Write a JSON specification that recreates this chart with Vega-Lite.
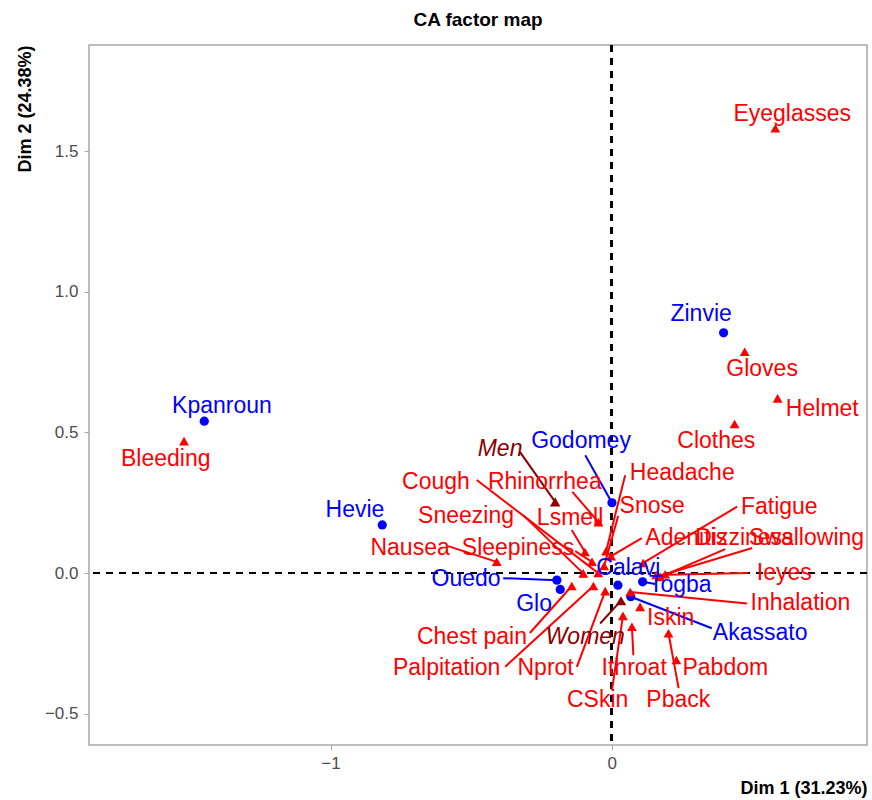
{
  "$schema": "https://vega.github.io/schema/vega-lite/v6.json",
  "width": 778,
  "height": 700,
  "autosize": {"type": "none"},
  "padding": {"left": 89, "top": 45, "right": 5, "bottom": 55},
  "background": "white",
  "title": {"text": "CA factor map", "font": "Liberation Sans", "fontSize": 19, "fontWeight": "bold", "color": "black", "anchor": "middle", "offset": 14},
  "config": {
    "view": {"stroke": "#A8A8A8", "strokeWidth": 1.5},
    "axis": {"labelFont": "Liberation Sans", "titleFont": "Liberation Sans", "labelColor": "#4D4D4D", "labelFontSize": 17, "titleFontSize": 18, "titleFontWeight": "bold", "titleColor": "black", "gridColor": "#EBEBEB", "gridWidth": 1.2, "domain": false, "tickSize": 5}
  },
  "datasets": {
    "pts": [
      {"name": "Kpanroun", "type": "row", "x": -1.449, "y": 0.540, "lx": -1.386, "ly": 0.594},
      {"name": "Zinvie", "type": "row", "x": 0.398, "y": 0.854, "lx": 0.318, "ly": 0.921},
      {"name": "Hevie", "type": "row", "x": -0.816, "y": 0.171, "lx": -0.913, "ly": 0.224},
      {"name": "Godomey", "type": "row", "x": 0.001, "y": 0.250, "lx": -0.109, "ly": 0.469, "sx": -0.094, "sy": 0.419},
      {"name": "Ouedo", "type": "row", "x": -0.195, "y": -0.025, "lx": -0.518, "ly": -0.021, "sx": -0.386, "sy": -0.018},
      {"name": "Glo", "type": "row", "x": -0.183, "y": -0.058, "lx": -0.276, "ly": -0.110},
      {"name": "Calavi", "type": "row", "x": 0.022, "y": -0.043, "lx": 0.059, "ly": 0.018},
      {"name": "Togba", "type": "row", "x": 0.110, "y": -0.031, "lx": 0.244, "ly": -0.043, "sx": 0.155, "sy": -0.039},
      {"name": "Akassato", "type": "row", "x": 0.068, "y": -0.084, "lx": 0.528, "ly": -0.213, "sx": 0.356, "sy": -0.196},
      {"name": "Eyeglasses", "type": "col", "x": 0.582, "y": 1.581, "lx": 0.642, "ly": 1.632},
      {"name": "Gloves", "type": "col", "x": 0.473, "y": 0.787, "lx": 0.535, "ly": 0.725},
      {"name": "Helmet", "type": "col", "x": 0.590, "y": 0.621, "lx": 0.749, "ly": 0.583},
      {"name": "Clothes", "type": "col", "x": 0.437, "y": 0.530, "lx": 0.372, "ly": 0.469},
      {"name": "Bleeding", "type": "col", "x": -1.521, "y": 0.469, "lx": -1.586, "ly": 0.405},
      {"name": "Cough", "type": "col", "x": -0.048, "y": 0.000, "lx": -0.625, "ly": 0.324, "sx": -0.480, "sy": 0.331},
      {"name": "Rhinorrhea", "type": "col", "x": -0.047, "y": 0.181, "lx": -0.238, "ly": 0.324, "sx": -0.140, "sy": 0.289},
      {"name": "Headache", "type": "col", "x": -0.020, "y": 0.078, "lx": 0.251, "ly": 0.355, "sx": 0.048, "sy": 0.348},
      {"name": "Snose", "type": "col", "x": -0.027, "y": 0.025, "lx": 0.144, "ly": 0.238, "sx": 0.023, "sy": 0.203},
      {"name": "Sneezing", "type": "col", "x": -0.101, "y": -0.001, "lx": -0.518, "ly": 0.203, "sx": -0.315, "sy": 0.206},
      {"name": "Lsmell", "type": "col", "x": -0.095, "y": 0.075, "lx": -0.148, "ly": 0.196, "sx": -0.142, "sy": 0.153},
      {"name": "Nausea", "type": "col", "x": -0.409, "y": 0.040, "lx": -0.717, "ly": 0.089, "sx": -0.582, "sy": 0.096},
      {"name": "Sleepiness", "type": "col", "x": -0.070, "y": 0.040, "lx": -0.333, "ly": 0.089, "sx": -0.130, "sy": 0.078},
      {"name": "Adenitis", "type": "col", "x": -0.002, "y": 0.060, "lx": 0.265, "ly": 0.124, "sx": 0.107, "sy": 0.124},
      {"name": "Fatigue", "type": "col", "x": 0.112, "y": 0.036, "lx": 0.596, "ly": 0.235, "sx": 0.446, "sy": 0.236},
      {"name": "Dizziness", "type": "col", "x": 0.173, "y": -0.014, "lx": 0.472, "ly": 0.124, "sx": 0.404, "sy": 0.085},
      {"name": "Swallowing", "type": "col", "x": 0.190, "y": -0.004, "lx": 0.693, "ly": 0.124, "sx": 0.500, "sy": 0.089},
      {"name": "Ieyes", "type": "col", "x": 0.158, "y": -0.007, "lx": 0.614, "ly": 0.000, "sx": 0.486, "sy": 0.000},
      {"name": "Inhalation", "type": "col", "x": 0.066, "y": -0.067, "lx": 0.671, "ly": -0.107, "sx": 0.481, "sy": -0.108},
      {"name": "Iskin", "type": "col", "x": 0.101, "y": -0.120, "lx": 0.210, "ly": -0.160},
      {"name": "Pback", "type": "col", "x": 0.202, "y": -0.214, "lx": 0.237, "ly": -0.451, "sx": 0.238, "sy": -0.409},
      {"name": "Pabdom", "type": "col", "x": 0.230, "y": -0.309, "lx": 0.404, "ly": -0.338},
      {"name": "Ithroat", "type": "col", "x": 0.072, "y": -0.191, "lx": 0.080, "ly": -0.338, "sx": 0.077, "sy": -0.292},
      {"name": "CSkin", "type": "col", "x": 0.040, "y": -0.152, "lx": -0.050, "ly": -0.451, "sx": 0.001, "sy": -0.416},
      {"name": "Nprot", "type": "col", "x": -0.023, "y": -0.064, "lx": -0.235, "ly": -0.338, "sx": -0.124, "sy": -0.333},
      {"name": "Palpitation", "type": "col", "x": -0.065, "y": -0.046, "lx": -0.587, "ly": -0.338, "sx": -0.379, "sy": -0.333},
      {"name": "Chest pain", "type": "col", "x": -0.142, "y": -0.046, "lx": -0.497, "ly": -0.226, "sx": -0.291, "sy": -0.213},
      {"name": "Men", "type": "sup", "x": -0.201, "y": 0.253, "lx": -0.397, "ly": 0.441, "sx": -0.326, "sy": 0.430},
      {"name": "Women", "type": "sup", "x": 0.033, "y": -0.098, "lx": -0.094, "ly": -0.226, "sx": -0.041, "sy": -0.179}
    ]
  },
  "data": {"name": "pts"},
  "encoding": {
    "x": {"type": "quantitative", "scale": {"domain": [-1.859, 0.908], "nice": false, "zero": false},
      "axis": {"title": "Dim 1 (31.23%)", "titleAnchor": "end", "titleAlign": "right", "titlePadding": 8,
        "values": [-1.5, -1, -0.5, 0, 0.5],
        "labelExpr": "datum.value == -1 ? '−1' : (datum.value == 0 ? '0' : '')",
        "tickColor": {"condition": {"test": "datum.value == -1 || datum.value == 0", "value": "#A8A8A8"}, "value": "transparent"},
        "labelPadding": 5}},
    "y": {"type": "quantitative", "scale": {"domain": [-0.611, 1.877], "nice": false, "zero": false},
      "axis": {"title": "Dim 2 (24.38%)", "titleAnchor": "end", "titlePadding": 10,
        "values": [-0.5, -0.25, 0, 0.25, 0.5, 0.75, 1, 1.25, 1.5, 1.75],
        "labelExpr": "abs(datum.value * 2 - round(datum.value * 2)) < 0.001 ? replace(format(datum.value, '.1f'), '-', '−') : ''",
        "tickColor": {"condition": {"test": "abs(datum.value * 2 - round(datum.value * 2)) < 0.001", "value": "#A8A8A8"}, "value": "transparent"},
        "labelPadding": 6}}
  },
  "layer": [
    {"mark": {"type": "rule", "color": "black", "strokeDash": [7, 6], "strokeWidth": 1.8}, "encoding": {"x": {"datum": 0}, "y": null}},
    {"mark": {"type": "rule", "color": "black", "strokeDash": [7, 6], "strokeWidth": 1.8}, "encoding": {"y": {"datum": 0}, "x": null}},
    {
      "transform": [{"filter": "isValid(datum.sx)"}],
      "mark": {"type": "rule", "strokeWidth": 2},
      "encoding": {
        "x": {"field": "sx", "type": "quantitative"},
        "y": {"field": "sy", "type": "quantitative"},
        "x2": {"field": "x"},
        "y2": {"field": "y"},
        "color": {"field": "type", "type": "nominal", "scale": {"domain": ["row", "col", "sup"], "range": ["#0000FF", "#FF0000", "#8B0000"]}, "legend": null}
      }
    },
    {
      "mark": {"type": "point", "filled": true, "opacity": 1},
      "encoding": {
        "x": {"field": "x", "type": "quantitative"},
        "y": {"field": "y", "type": "quantitative"},
        "shape": {"field": "type", "type": "nominal", "scale": {"domain": ["row", "col", "sup"], "range": ["circle", "triangle-up", "triangle-up"]}, "legend": null},
        "size": {"field": "type", "type": "nominal", "scale": {"domain": ["row", "col", "sup"], "range": [85, 110, 110]}, "legend": null},
        "color": {"field": "type", "type": "nominal", "legend": null}
      }
    },
    {
      "transform": [{"filter": "datum.type != 'sup'"}],
      "mark": {"type": "text", "font": "Liberation Sans", "fontSize": 23, "align": "center", "baseline": "middle"},
      "encoding": {
        "x": {"field": "lx", "type": "quantitative"},
        "y": {"field": "ly", "type": "quantitative"},
        "text": {"field": "name"},
        "color": {"field": "type", "type": "nominal", "legend": null}
      }
    },
    {
      "transform": [{"filter": "datum.type == 'sup'"}],
      "mark": {"type": "text", "font": "Liberation Sans", "fontSize": 23, "fontStyle": "italic", "align": "center", "baseline": "middle"},
      "encoding": {
        "x": {"field": "lx", "type": "quantitative"},
        "y": {"field": "ly", "type": "quantitative"},
        "text": {"field": "name"},
        "color": {"field": "type", "type": "nominal", "legend": null}
      }
    }
  ]
}
